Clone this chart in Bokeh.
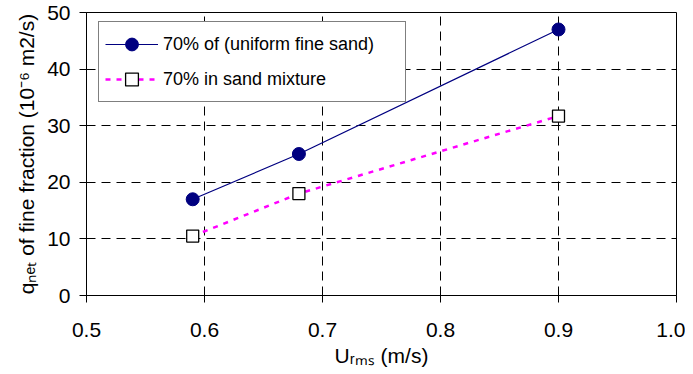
from bokeh.plotting import figure
from bokeh.models import (FixedTicker, PrintfTickFormatter, Range1d,
                          Legend, LegendItem)
from bokeh.embed import file_html
from bokeh.resources import INLINE

# ---------------- data ----------------
u_rms = [0.59, 0.68, 0.90]
uniform_fine = [17.0, 25.0, 47.0]
sand_mixture = [10.5, 18.0, 31.7]
series_names = ["70% of (uniform fine sand)", "70% in sand mixture"]
x_ticks = [0.5, 0.6, 0.7, 0.8, 0.9, 1.0]
y_ticks = [0, 10, 20, 30, 40, 50]
x_title = "U\u1d63\u2098\u209b (m/s)"
y_title = "q\u2099\u2091\u209c of fine fraction (10\u207b\u2076 m2/s)"

FONT = "Liberation Sans"
MAIN = "21px"

p = figure(width=685, height=373, output_backend="svg", toolbar_location=None,
           x_range=Range1d(x_ticks[0], x_ticks[-1]),
           y_range=Range1d(y_ticks[0], y_ticks[-1]),
           min_border_left=86, min_border_right=9, min_border_top=12,
           min_border_bottom=78)
p.background_fill_color = "white"
p.border_fill_color = "white"
p.outline_line_color = "black"
p.outline_line_width = 1

for ax in (p.xaxis, p.yaxis):
    ax.axis_line_color = "black"
    ax.axis_line_width = 1
    ax.major_tick_line_color = "black"
    ax.major_tick_in = 0
    ax.major_tick_out = 7
    ax.minor_tick_line_color = None
    ax.major_label_text_font = FONT
    ax.major_label_text_font_size = MAIN
    ax.major_label_text_color = "black"
    ax.axis_label_text_font = FONT
    ax.axis_label_text_font_size = MAIN
    ax.axis_label_text_font_style = "normal"
    ax.axis_label_text_color = "black"

p.xaxis.ticker = FixedTicker(ticks=x_ticks)
p.xaxis.formatter = PrintfTickFormatter(format="%.1f")
p.xaxis.major_label_standoff = 20
p.xaxis.axis_label = x_title
p.xaxis.axis_label_standoff = 4
p.yaxis.ticker = FixedTicker(ticks=y_ticks)
p.yaxis.major_label_standoff = 9
p.yaxis.axis_label = y_title
p.yaxis.axis_label_standoff = 6

for g in (p.xgrid, p.ygrid):
    g.grid_line_color = "black"
    g.grid_line_width = 1
    g.grid_line_dash = "9 6"

# ---------------- series ----------------
r1 = p.line(u_rms, uniform_fine, line_color="#000080", line_width=1.2)
c1 = p.scatter(u_rms, uniform_fine, marker="circle", size=13,
               fill_color="#000080", line_color="#000080")
r2 = p.line(u_rms, sand_mixture, line_color="#FF00FF", line_width=2.5,
            line_dash="5 6")
s2 = p.scatter(u_rms, sand_mixture, marker="square", size=12,
               fill_color="white", line_color="black", line_width=1.3)

legend = Legend(items=[LegendItem(label=series_names[0], renderers=[r1, c1]),
                       LegendItem(label=series_names[1], renderers=[r2, s2])],
                location=(12, 193), margin=0, padding=6, spacing=3,
                glyph_width=53, glyph_height=32, label_height=20,
                label_standoff=5, label_width=236,
                label_text_font=FONT, label_text_font_size="18px",
                label_text_color="black",
                border_line_color="black", border_line_width=1,
                background_fill_color="white", background_fill_alpha=1)
p.add_layout(legend)

open("out.html", "w").write(file_html(p, INLINE))
